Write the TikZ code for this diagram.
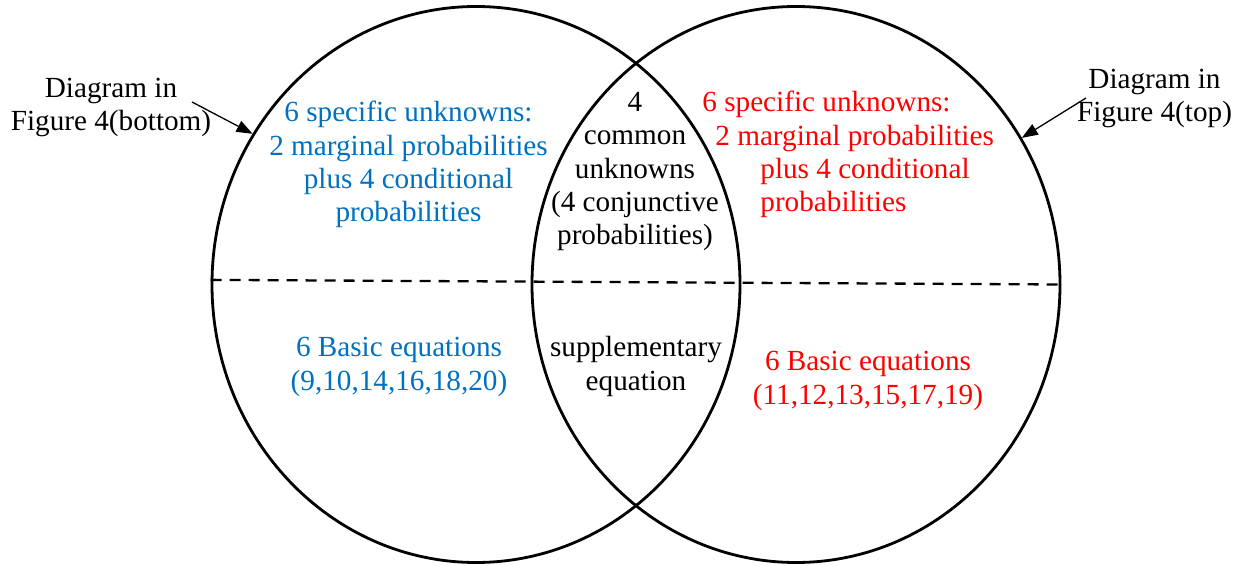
\documentclass[tikz,border=0pt]{standalone}
\usepackage{fontspec}
\setmainfont{Liberation Serif}
\usepackage{tikz}
\usetikzlibrary{
    arrows.meta,
    shapes.geometric
}
\definecolor{setblue}{HTML}{0070C0}
\definecolor{setred}{HTML}{FF0000}
\tikzstyle{pointer}=[line width=0.65pt,-{Triangle[length=8pt,width=6pt]}]

\begin{document}
\begin{tikzpicture}[
    x=0.5pt,
    y=-0.5pt,
    venn/.style={
        ellipse,
        draw,
        line width=1.4pt,
        minimum width=264pt,
        minimum height=278pt,
        inner sep=0pt
    },
    txt/.style={
        align=center,
        inner sep=0pt,
        anchor=base,
        font=\fontsize{14.6}{16.7}\selectfont
    },
    divider/.style={
        line width=1.15pt,
        dash pattern=on 5.5pt off 4pt
    }
]
\useasboundingbox (0,0) rectangle (1246,566);

\node[venn] (setL) at (476,284.5) {};
\node[venn] (setR) at (796,284.5) {};
\draw[divider] (setL.179) -- (setR.-0.6);

% upper half: unknowns (placed by the baseline of the last line)
\node[txt,text=setblue] (unkL) at (408.5,222)
{6 specific unknowns:\\2 marginal probabilities\\plus 4 conditional\\probabilities};
\node[txt] (unkC) at (635,245)
{4\\common\\unknowns\\(4 conjunctive\\probabilities)};
\node[txt,text=setred,align=left,anchor=base west] (unkR) at (702,212)
{6 specific unknowns:\\\hspace*{6.5pt}2 marginal probabilities\\\hspace*{29pt}plus 4 conditional\\\hspace*{29pt}probabilities};

% lower half: equations
\node[txt,text=setblue] (eqL) at (399,390)
{6 Basic equations\\(9,10,14,16,18,20)};
\node[txt] (eqC) at (636,390) {supplementary\\equation};
\node[txt,text=setred] (eqR) at (868,404)
{6 Basic equations\\(11,12,13,15,17,19)};

% outside labels
\node[txt] (diagL) at (111,130.5) {Diagram in\\Figure 4(bottom)};
\node[txt] (diagR) at (1154.5,122) {Diagram in\\Figure 4(top)};
\coordinate (tailL) at (192,102);
\coordinate (tailR) at (1086,98);
\draw[pointer] (tailL) -- (setL.146.5);
\draw[pointer] (tailR) -- (setR.33.5);
\end{tikzpicture}
\end{document}
